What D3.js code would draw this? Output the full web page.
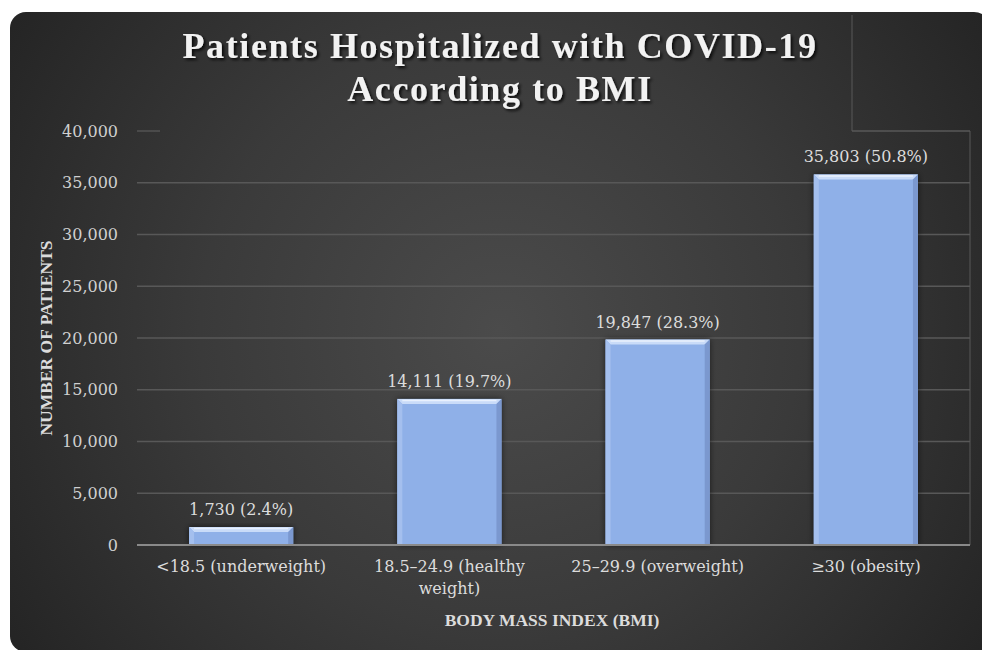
<!DOCTYPE html>
<html><head><meta charset="utf-8">
<script src="https://cdn.jsdelivr.net/npm/d3@7"></script>
<style>
html,body{margin:0;padding:0;background:#fff;}
svg{display:block;}
</style></head>
<body>
<svg id="c" width="982" height="650"></svg>
<script>
const categories = ["<18.5 (underweight)", "18.5–24.9 (healthy weight)", "25–29.9 (overweight)", "≥30 (obesity)"];
const values = [1730, 14111, 19847, 35803];
const percents = ["2.4%", "19.7%", "28.3%", "50.8%"];
const yTicks = [0, 5000, 10000, 15000, 20000, 25000, 30000, 35000, 40000];
const titleLines = ["Patients Hospitalized with COVID-19", "According to BMI"];
const xTitle = "BODY MASS INDEX (BMI)";
const yTitle = "NUMBER OF PATIENTS";

const svg = d3.select("#c");
const defs = svg.append("defs");

const rg = defs.append("radialGradient").attr("id","bg").attr("gradientUnits","userSpaceOnUse")
  .attr("cx",500).attr("cy",330).attr("r",600);
rg.append("stop").attr("offset","0").attr("stop-color","#4b4b4b");
rg.append("stop").attr("offset","0.5").attr("stop-color","#3a3a3a");
rg.append("stop").attr("offset","1").attr("stop-color","#232323");

const sh = defs.append("filter").attr("id","barsh").attr("x","-20%").attr("y","-20%").attr("width","140%").attr("height","140%");
sh.append("feDropShadow").attr("dx",0).attr("dy",0).attr("stdDeviation",3).attr("flood-color","#000").attr("flood-opacity",0.6);
const tsh = defs.append("filter").attr("id","tsh").attr("x","-10%").attr("y","-30%").attr("width","120%").attr("height","160%");
tsh.append("feDropShadow").attr("dx",2).attr("dy",2).attr("stdDeviation",1.5).attr("flood-color","#000").attr("flood-opacity",0.8);

svg.append("rect").attr("x",10).attr("y",12).attr("width",980).attr("height",640).attr("rx",16).attr("fill","url(#bg)");

const m = {left:137, right:970, top:131, bottom:545};
const x = d3.scaleBand().domain(categories).range([m.left, m.right]).paddingInner(0.5).paddingOuter(0.25);
const y = d3.scaleLinear().domain([0, 40000]).range([m.bottom, m.top]);

const serif = "'DejaVu Serif', 'Liberation Serif', serif";
const serifB = "'Liberation Serif', serif";
const fs = "16px";

// gridlines
const grid = svg.append("g");
yTicks.filter(t => t > 0 && t < 40000).forEach(t => {
  grid.append("line").attr("x1",m.left).attr("x2",m.right).attr("y1",y(t)).attr("y2",y(t))
    .attr("stroke","#585858").attr("stroke-width",1.3);
});
grid.append("line").attr("x1",m.left).attr("x2",160).attr("y1",y(40000)).attr("y2",y(40000)).attr("stroke","#585858").attr("stroke-width",1.3);
grid.append("line").attr("x1",852).attr("x2",m.right).attr("y1",y(40000)).attr("y2",y(40000)).attr("stroke","#585858").attr("stroke-width",1.3);
grid.append("line").attr("x1",852).attr("x2",852).attr("y1",15).attr("y2",y(40000)).attr("stroke","#585858").attr("stroke-width",1);
grid.append("line").attr("x1",m.right).attr("x2",m.right).attr("y1",y(40000)).attr("y2",m.bottom).attr("stroke","#585858").attr("stroke-width",1);

// y axis
const yAxis = d3.axisLeft(y).tickValues(yTicks).tickFormat(d3.format(",")).tickSize(0).tickPadding(19);
const gy = svg.append("g").attr("transform",`translate(${m.left},0)`).call(yAxis);
gy.select(".domain").remove();
gy.selectAll("text").attr("fill","#d0d0d0").style("font-family",serif).style("font-size",fs);

// bars
const bars = svg.append("g");
categories.forEach((c,i) => {
  const bx = x(c), bw = x.bandwidth(), by = y(values[i]), bh = y(0) - y(values[i]);
  const g = bars.append("g");
  g.append("rect").attr("x",bx).attr("y",by).attr("width",bw).attr("height",bh).attr("fill","#8fb0e8").attr("filter","url(#barsh)");
  const b = Math.min(5, bh/2);
  g.append("polygon").attr("points",`${bx},${by} ${bx+bw},${by} ${bx+bw-b},${by+b} ${bx+b},${by+b}`).attr("fill","#c9dbf8");
  g.append("polygon").attr("points",`${bx},${by} ${bx+b},${by+b} ${bx+b},${by+bh} ${bx},${by+bh}`).attr("fill","#a4bfee");
  g.append("polygon").attr("points",`${bx+bw},${by} ${bx+bw-b},${by+b} ${bx+bw-b},${by+bh} ${bx+bw},${by+bh}`).attr("fill","#7b98cf");
  g.append("line").attr("x1",bx+b).attr("x2",bx+bw-b).attr("y1",by+1.5).attr("y2",by+1.5).attr("stroke","#e8f0fd").attr("stroke-width",1.5);
  svg.append("text").attr("x",bx+bw/2).attr("y",by-12).attr("text-anchor","middle")
    .attr("fill","#dcdcdc").style("font-family",serif).style("font-size",fs)
    .text(d3.format(",")(values[i]) + " (" + percents[i] + ")");
});

// x axis line
svg.append("line").attr("x1",m.left).attr("x2",m.right).attr("y1",m.bottom).attr("y2",m.bottom).attr("stroke","#8a8a8a").attr("stroke-width",2);

// x tick labels
const xAxis = d3.axisBottom(x).tickSize(0).tickPadding(0);
const gx = svg.append("g").attr("transform",`translate(0,${m.bottom})`).call(xAxis);
gx.select(".domain").remove();
gx.selectAll("text").each(function(d){
  const t = d3.select(this);
  t.text(null).attr("y",27).attr("dy",0).attr("fill","#dcdcdc").style("font-family",serif).style("font-size",fs);
  let lines = [d];
  if (d === "18.5–24.9 (healthy weight)") lines = ["18.5–24.9 (healthy", "weight)"];
  lines.forEach((ln,k) => t.append("tspan").attr("x",0).attr("dy",k===0?0:22).text(ln));
});

// axis titles
svg.append("text").attr("x",552).attr("y",626).attr("text-anchor","middle").attr("fill","#dcdcdc")
  .style("font-family",serifB).style("font-size","17.5px").style("font-weight","bold").text(xTitle);
svg.append("text").attr("transform","translate(52,338) rotate(-90)").attr("text-anchor","middle").attr("fill","#dcdcdc")
  .style("font-family",serifB).style("font-size","17.5px").style("font-weight","bold").text(yTitle);

// title
const tt = svg.append("text").attr("text-anchor","middle").attr("fill","#f2f2f2").attr("filter","url(#tsh)")
  .style("font-family",serifB).style("font-size","36px").style("font-weight","bold").style("letter-spacing","1.6px");
titleLines.forEach((ln,k) => tt.append("tspan").attr("x",500).attr("y",k===0?58:101).text(ln));
</script>
</body></html>
